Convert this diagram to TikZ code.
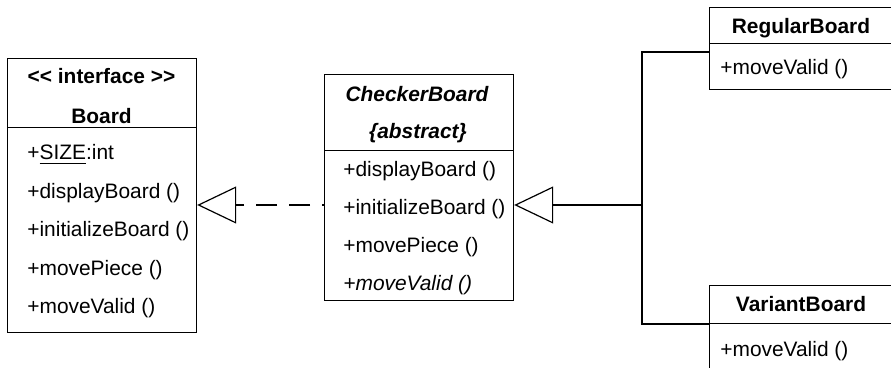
\documentclass[tikz,border=0pt]{standalone}
\usepackage{fontspec}
\setmainfont{Liberation Sans}
\usetikzlibrary{arrows.meta}
\begin{document}
\begin{tikzpicture}[x=0.5pt,y=-0.5pt,
    box/.style={draw,line width=0.6pt,anchor=north west,inner sep=0pt},
    member/.style={anchor=base west,inner sep=0pt,font=\fontsize{10.45}{12}\selectfont},
    title/.style={anchor=base,inner sep=0pt,font=\fontsize{10.45}{12}\selectfont\bfseries},
    conn/.style={line width=1.3pt},
    opentip/.style={-{Triangle[open,length=19.5pt,width=18.5pt,line width=0.6pt]}},
    realize/.style={conn,opentip,dash pattern=on 10.5pt off 6pt,dash phase=9.5pt},
    gen/.style={conn,opentip}]
  \useasboundingbox (0,0) rectangle (891,368);
  \clip (0,0) rectangle (891,368);

  % interface Board
  \node[box,minimum width=94.5pt,minimum height=34.5pt] (bhead) at (7,58) {};
  \node[box,minimum width=94.5pt,minimum height=102.5pt] (bbody) at (7,127) {};
  \node[title] (bstereo) at (101.5,84) {<\kern0pt< interface >\kern0pt>};
  \node[title] (bname) at (101.5,124) {Board};
  \foreach \t [count=\i from 0] in {+\underline{SIZE}:int,+displayBoard (),
      +initializeBoard (),+movePiece (),+moveValid ()}
    \node[member] (b\i) at (27,160+38.5*\i) {\t};

  % abstract CheckerBoard
  \node[box,minimum width=94.5pt,minimum height=38pt] (chead) at (324,74) {};
  \node[box,minimum width=94.5pt,minimum height=75pt] (cbody) at (324,150) {};
  \node[title] (cname) at (417,102) {\itshape CheckerBoard};
  \node[title] (cabstract) at (418,139) {\itshape\{abstract\}};
  \foreach \t [count=\i from 0] in {+displayBoard (),+initializeBoard (),
      +movePiece (),\textit{+moveValid ()}}
    \node[member] (c\i) at (343,177+37.7*\i) {\t};

  % RegularBoard
  \node[box,minimum width=92pt,minimum height=18pt] (rhead) at (709,7) {};
  \node[box,minimum width=92pt,minimum height=23pt] (rbody) at (709,43) {};
  \node[title] (rname) at (801,34) {RegularBoard};
  \node[member] (r0) at (720,75) {+moveValid ()};

  % VariantBoard
  \node[box,minimum width=92pt,minimum height=19pt] (vhead) at (709,285) {};
  \node[box,minimum width=92pt,minimum height=40pt] (vbody) at (709,323) {};
  \node[title] (vname) at (801,312) {VariantBoard};
  \node[member] (v0) at (720,357) {+moveValid ()};

  % connectors
  \coordinate (realizes) at (324,205);
  \coordinate (fork) at (642,205);
  \coordinate (rjoin) at (709,52);
  \draw[realize] (realizes) -- (bbody.east |- realizes);
  \draw[gen] (fork) -- (cbody.east |- fork);
  \draw[conn] (rjoin) -| (fork) |- (vhead.south west);
\end{tikzpicture}
\end{document}
